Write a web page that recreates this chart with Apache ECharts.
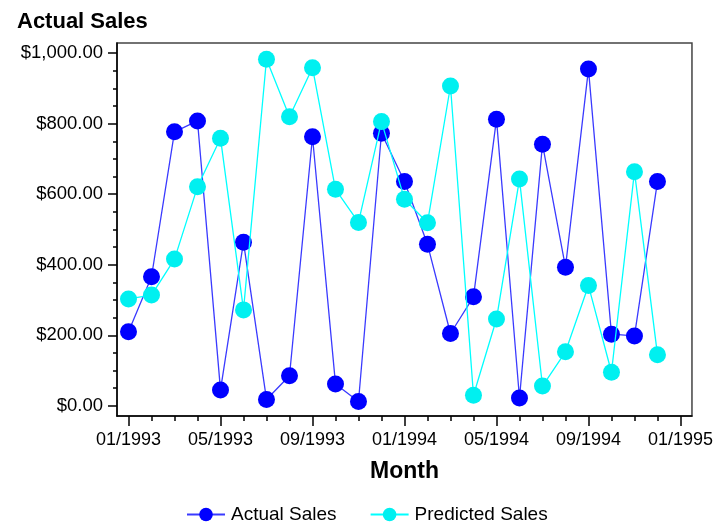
<!DOCTYPE html>
<html>
<head>
<meta charset="utf-8">
<script src="https://cdn.jsdelivr.net/npm/echarts@6/dist/echarts.min.js"></script>
<style>
  html, body { margin: 0; padding: 0; background: #fff; }
  #chart { width: 716px; height: 524px; }
</style>
</head>
<body>
<div id="chart"></div>
<script>
// Monthly sales, January 1993 through December 1994 (month index 0 = 01/1993)
const months = [
  '1993-01','1993-02','1993-03','1993-04','1993-05','1993-06',
  '1993-07','1993-08','1993-09','1993-10','1993-11','1993-12',
  '1994-01','1994-02','1994-03','1994-04','1994-05','1994-06',
  '1994-07','1994-08','1994-09','1994-10','1994-11','1994-12'
];
const actualSales = [
  210, 366, 777, 808, 45, 464, 18, 85, 763, 62, 12, 773,
  636, 458, 205, 309, 813, 22, 742, 393, 955, 203, 198, 636
];
const predictedSales = [
  303, 314, 416, 621, 759, 272, 983, 820, 959, 614, 520, 806,
  586, 519, 907, 30, 246, 643, 56, 153, 341, 95, 664, 145
];
const xTickLabels = ['01/1993','05/1993','09/1993','01/1994','05/1994','09/1994','01/1995'];
const yTickValues = [0, 200, 400, 600, 800, 1000];

const FONT = '"Liberation Sans", Arial, sans-serif';

const pairs = arr => arr.map((v, i) => [i, v]);
const money = v => '$' + v.toLocaleString('en-US', { minimumFractionDigits: 2, maximumFractionDigits: 2 });

const xMajor = xTickLabels.map((_, i) => i * 4);
const xMinor = [];
for (let m = 0; m <= 24; m++) xMinor.push(m);
const yMinor = [];
for (let v = 0; v <= 1000; v += 50) yMinor.push(v);

const X_MIN = -0.5, X_MAX = 24.5, Y_MIN = -29, Y_MAX = 1029;

const chart = echarts.init(document.getElementById('chart'), null, { renderer: 'canvas' });
chart.setOption({
  animation: false,
  backgroundColor: '#fff',
  title: {
    text: 'Actual Sales',
    left: 12, top: 6,
    textStyle: { fontFamily: FONT, fontSize: 22, fontWeight: 'bold', color: '#000' }
  },
  legend: {
    bottom: 0,
    left: 186,
    padding: 0,
    itemWidth: 38,
    itemHeight: 17,
    itemGap: 33,
    textStyle: { fontFamily: FONT, fontSize: 19, color: '#000', padding: [0, 0, 0, 1] },
    data: ['Actual Sales', 'Predicted Sales']
  },
  grid: {
    left: 117, right: 21, top: 43, bottom: 108,
    show: true, borderColor: '#444', borderWidth: 1.5, backgroundColor: '#fff'
  },
  xAxis: [
    {
      type: 'value', min: X_MIN, max: X_MAX,
      name: 'Month', nameLocation: 'middle', nameGap: 44,
      nameTextStyle: { fontFamily: FONT, fontSize: 23, fontWeight: 'bold', color: '#000' },
      axisLine: { show: true, onZero: false, lineStyle: { color: '#000', width: 1.5 } },
      axisTick: { show: true, customValues: xMajor, length: 10, lineStyle: { color: '#000', width: 1.5 } },
      axisLabel: {
        customValues: xMajor, margin: 15,
        fontFamily: FONT, fontSize: 18, color: '#000',
        formatter: v => xTickLabels[Math.round(v / 4)]
      },
      splitLine: { show: false }
    },
    {
      type: 'value', min: X_MIN, max: X_MAX, position: 'bottom',
      axisLine: { show: false, onZero: false },
      axisTick: { show: true, customValues: xMinor, length: 5, lineStyle: { color: '#000', width: 1.5 } },
      axisLabel: { show: false },
      splitLine: { show: false }
    }
  ],
  yAxis: [
    {
      type: 'value', min: Y_MIN, max: Y_MAX,
      axisLine: { show: true, onZero: false, lineStyle: { color: '#000', width: 1.5 } },
      axisTick: { show: true, customValues: yTickValues, length: 9, lineStyle: { color: '#000', width: 1.5 } },
      axisLabel: {
        customValues: yTickValues, margin: 14,
        fontFamily: FONT, fontSize: 18.5, color: '#000',
        formatter: v => money(v)
      },
      splitLine: { show: false }
    },
    {
      type: 'value', min: Y_MIN, max: Y_MAX, position: 'left',
      axisLine: { show: false, onZero: false },
      axisTick: { show: true, customValues: yMinor, length: 4, lineStyle: { color: '#000', width: 1.5 } },
      axisLabel: { show: false },
      splitLine: { show: false }
    }
  ],
  series: [
    {
      name: 'Actual Sales',
      type: 'line',
      data: pairs(actualSales),
      symbol: 'circle', symbolSize: 17,
      lineStyle: { color: '#3a3aff', width: 1.3 },
      itemStyle: { color: '#0000ff', borderWidth: 0 },
      z: 2
    },
    {
      name: 'Predicted Sales',
      type: 'line',
      data: pairs(predictedSales),
      symbol: 'circle', symbolSize: 17,
      lineStyle: { color: '#00ffff', width: 1.3 },
      itemStyle: { color: '#00f0f0', borderWidth: 0 },
      z: 3
    }
  ]
});
</script>
</body>
</html>
